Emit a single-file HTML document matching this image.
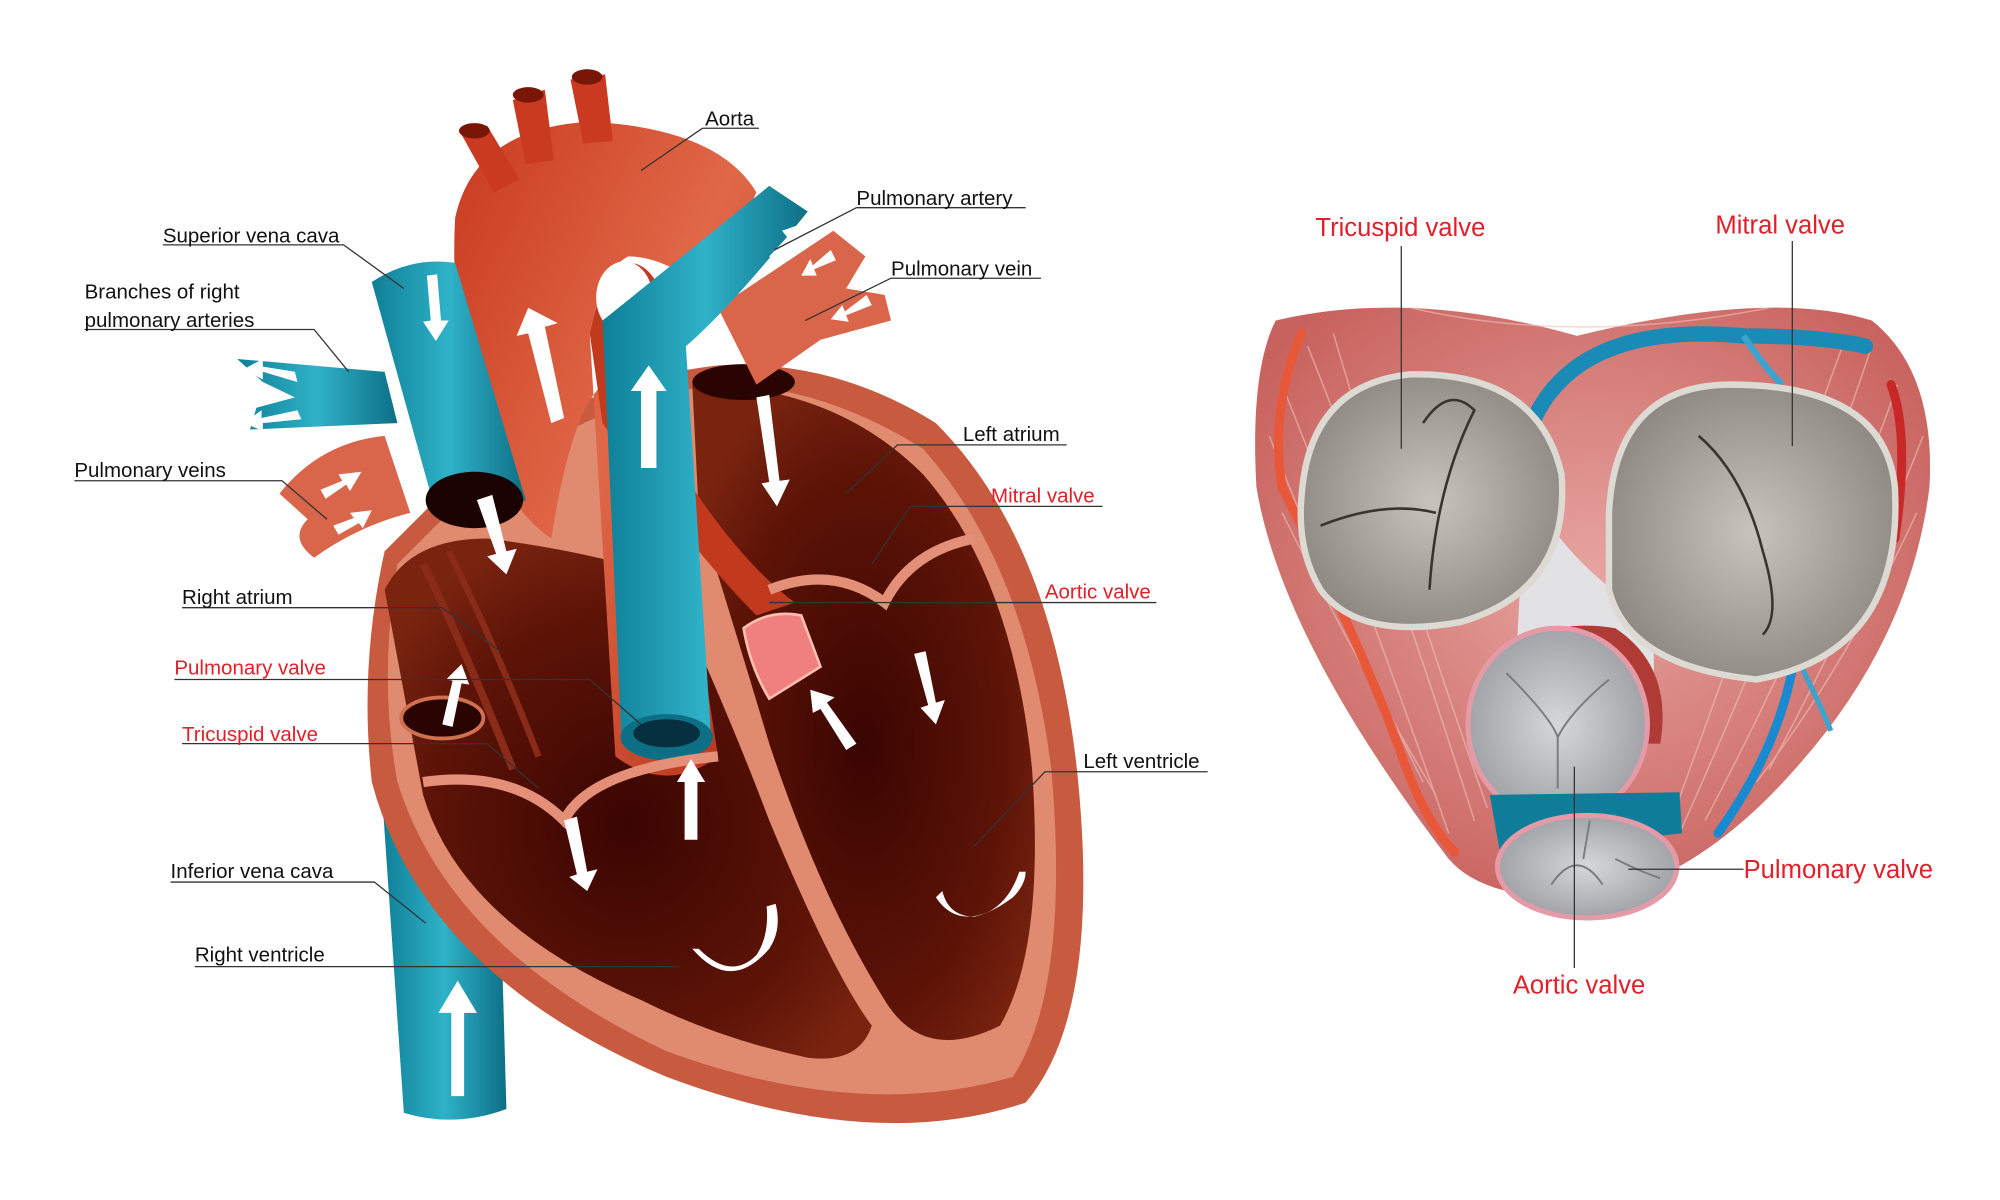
<!DOCTYPE html>
<html><head><meta charset="utf-8"><style>
html,body{margin:0;padding:0;background:#fff;width:2000px;height:1200px;overflow:hidden}
svg{display:block}
text{font-family:"Liberation Sans",sans-serif;font-size:16px}
.b{fill:#111}.r{fill:#e0202a}
.l{stroke:#333;stroke-width:1;fill:none}
.ar{fill:#fff}
</style></head><body>
<svg width="2000" height="1200" viewBox="0 0 1560 936" preserveAspectRatio="none">
<defs>
<radialGradient id="dk" cx="0.5" cy="0.55" r="0.6"><stop offset="0" stop-color="#3a0502"/><stop offset="0.7" stop-color="#5e1407"/><stop offset="1" stop-color="#7a2410"/></radialGradient>
<linearGradient id="ao" x1="0" y1="0" x2="1" y2="1"><stop offset="0" stop-color="#c93a20"/><stop offset="0.5" stop-color="#e06848"/><stop offset="1" stop-color="#b53018"/></linearGradient>
<linearGradient id="bl" x1="0" x2="1"><stop offset="0" stop-color="#0e7f97"/><stop offset="0.5" stop-color="#2fb2c8"/><stop offset="1" stop-color="#0d6f86"/></linearGradient>
<radialGradient id="gv" cx="0.5" cy="0.5" r="0.55"><stop offset="0" stop-color="#c8c3bc"/><stop offset="1" stop-color="#8e8882"/></radialGradient>
<radialGradient id="gv2" cx="0.5" cy="0.5" r="0.55"><stop offset="0" stop-color="#d6d7da"/><stop offset="1" stop-color="#9c9ea3"/></radialGradient>
<radialGradient id="mu" cx="0.5" cy="0.45" r="0.6"><stop offset="0" stop-color="#e7a4a0"/><stop offset="1" stop-color="#c8625e"/></radialGradient>
</defs>

<path d="M298,620 L388,620 L395,865 Q355,880 315,868 Z" fill="url(#bl)"/>
<path d="M300,430 Q280,520 290,610 Q330,760 520,840 Q680,900 800,860 Q860,790 840,600 Q820,420 730,330 Q650,280 560,285 Q430,300 330,400 Z" fill="#c85a40"/>
<path d="M310,440 Q295,530 310,610 Q350,740 520,820 Q670,875 790,840 Q835,770 820,600 Q800,440 720,350 Q640,300 560,300 Q440,315 340,410 Z" fill="#e08a70"/>
<path d="M540,300 Q650,300 720,370 Q790,450 805,600 Q815,740 780,800 Q720,830 690,780 Q640,700 600,580 Q570,480 545,400 Z" fill="url(#dk)"/>
<path d="M300,460 Q320,420 380,420 Q460,430 520,450 Q570,560 600,640 Q650,760 680,800 Q670,830 630,825 Q560,810 500,780 Q360,720 330,620 Z" fill="url(#dk)"/>
<path d="M330,440 Q360,500 400,600" stroke="#8a2a18" stroke-width="6" fill="none"/>
<path d="M350,430 Q385,500 420,590" stroke="#8a2a18" stroke-width="5" fill="none"/>
<ellipse cx="345" cy="560" rx="32" ry="16" fill="#2a0400" stroke="#d07050" stroke-width="3"/>
<ellipse cx="580" cy="298" rx="40" ry="14" fill="#2a0400"/>
<path d="M355,170 Q370,100 460,95 Q560,100 590,150 L555,230 Q520,200 490,200 Q470,210 460,260 L480,590 Q520,620 560,590 L520,330 Q460,230 430,420 Q400,400 380,350 Q350,260 355,170 Z" fill="url(#ao)"/>
<path d="M460,260 Q470,210 490,205 Q510,205 520,240 L540,380 Q580,440 620,470 L590,480 Q540,430 470,330 Z" fill="#c23a1e"/>
<ellipse cx="487" cy="232" rx="22" ry="28" fill="#fff"/>
<path d="M360,105 L380,98 L405,140 L385,150 Z" fill="#c93a20"/>
<path d="M400,78 L425,70 L432,125 L410,128 Z" fill="#c93a20"/>
<path d="M445,62 L472,58 L478,110 L455,112 Z" fill="#c93a20"/>
<ellipse cx="370" cy="102" rx="12" ry="6" fill="#7a1608"/>
<ellipse cx="412" cy="74" rx="12" ry="6" fill="#7a1608"/>
<ellipse cx="458" cy="60" rx="12" ry="6" fill="#7a1608"/>
<path d="M560,240 L650,180 L675,200 L660,225 L690,230 L695,250 L640,265 L590,300 Z" fill="#d9654a"/>
<path d="M218,385 Q250,345 300,340 L320,400 Q280,410 245,435 Q225,420 240,405 Z" fill="#d9654a"/>
<path d="M290,220 Q320,200 355,205 L410,390 Q380,410 340,400 Z" fill="url(#bl)"/>
<ellipse cx="370" cy="390" rx="38" ry="22" fill="#1a0200"/>
<path d="M185,280 L300,290 L310,330 L195,335 L200,318 L230,310 L205,298 Z" fill="url(#bl)"/>
<path d="M470,250 Q520,210 600,145 L630,165 Q570,240 535,270 L555,580 Q520,600 485,580 Z" fill="url(#bl)"/>
<ellipse cx="520" cy="575" rx="36" ry="18" fill="#0d6f86"/>
<ellipse cx="520" cy="572" rx="26" ry="11" fill="#063040"/>
<path d="M580,490 Q600,475 625,480 L640,520 L600,545 Q585,520 580,490 Z" fill="#f08080" stroke="#ffc0b0" stroke-width="2"/>
<path d="M600,460 Q650,440 690,470 Q710,430 760,420" stroke="#e49078" stroke-width="8" fill="none"/>
<path d="M330,610 Q400,600 440,640 Q460,600 560,590" stroke="#e49078" stroke-width="8" fill="none"/>
<g class="ar">
<path d="M430,330 L440,326 L425,255 L435,252 L412,240 L403,262 L412,260 Z"/>
<path d="M500,365 L512,365 L512,305 L520,305 L506,285 L492,305 L500,305 Z"/>
<path d="M352,855 L362,855 L362,790 L372,790 L357,765 L342,790 L352,790 Z"/>
<path d="M333,215 L341,214 L344,250 L350,250 L340,266 L330,251 L336,250 Z"/>
<path d="M372,390 L384,386 L395,430 L403,428 L395,448 L380,434 L387,432 Z"/>
<path d="M590,310 L600,308 L608,375 L616,374 L606,395 L594,377 L600,376 Z"/>
<path d="M440,640 L450,637 L458,680 L466,678 L458,695 L444,684 L450,682 Z"/>
<path d="M534,655 L544,655 L544,610 L550,610 L539,592 L528,610 L534,610 Z"/>
<path d="M345,565 L353,567 L360,533 L366,534 L360,518 L348,530 L353,531 Z"/>
<path d="M660,585 L668,580 L645,548 L651,544 L632,538 L634,556 L640,553 Z"/>
<path d="M713,510 L722,508 L730,548 L737,546 L730,565 L718,552 L724,550 Z"/>
<path d="M600,200 L608,208 L620,190 L625,195 L630,173 L610,180 L614,185 Z"/>
<path d="M230,290 L232,298 L205,290 L205,296 L190,288 L205,280 L205,286 Z"/>
<path d="M232,320 L235,327 L205,330 L205,336 L190,330 L204,320 L204,326 Z"/>
<path d="M250,382 L254,389 L270,378 L273,383 L282,368 L264,370 L267,375 Z"/>
<path d="M260,410 L264,417 L280,408 L283,412 L290,398 L273,400 L276,404 Z"/>
<path d="M648,195 L652,203 L635,210 L637,215 L625,215 L632,202 L634,207 Z"/>
<path d="M676,230 L680,238 L660,246 L662,251 L648,249 L657,238 L659,243 Z"/>
<path d="M540,740 Q570,775 600,740 Q610,725 605,705 L598,707 Q600,730 590,745 Q570,765 545,740 Z"/>
<path d="M730,700 Q750,730 790,700 Q800,690 800,680 L795,680 Q785,710 760,715 Q740,715 735,695 Z"/>
</g>

<!-- RIGHT VALVE VIEW -->
<path d="M995,250 Q1100,225 1230,262 Q1380,225 1460,250 Q1510,290 1505,380 Q1490,500 1400,600 Q1330,680 1250,700 Q1160,705 1130,670 Q1000,500 980,380 Q975,290 995,250 Z" fill="url(#mu)"/>
<g stroke="#f2c0bc" stroke-width="1.2" opacity="0.6" fill="none">
<path d="M1000,300 Q1060,450 1130,650"/><path d="M1020,270 Q1080,420 1150,640"/><path d="M1480,300 Q1420,470 1330,640"/><path d="M1460,270 Q1400,450 1310,650"/><path d="M1100,240 Q1230,270 1380,240"/><path d="M1000,400 Q1060,520 1120,620"/><path d="M1495,400 Q1440,520 1370,610"/>
<path d="M1040,260 Q1090,430 1160,630"/><path d="M1440,262 Q1380,430 1300,650"/><path d="M990,340 Q1040,470 1110,610"/><path d="M1500,340 Q1450,470 1380,600"/>
</g>
<path d="M1190,380 Q1230,450 1290,480 L1290,560 L1180,560 Z" fill="#e2e2e4"/>
<path d="M1195,330 Q1230,250 1360,262 Q1420,262 1455,270" stroke="#1a8ab6" stroke-width="12" fill="none" stroke-linecap="round"/>
<path d="M1360,262 Q1375,285 1390,300" stroke="#3aa3d0" stroke-width="5" fill="none"/>
<path d="M1015,260 Q990,320 1000,380 Q1060,500 1090,580 Q1110,640 1135,665" stroke="#e85838" stroke-width="7" fill="none" stroke-linecap="round"/>
<path d="M1475,300 Q1490,340 1478,420" stroke="#c82828" stroke-width="7" fill="none" stroke-linecap="round"/>
<path d="M1400,510 Q1390,580 1340,650" stroke="#1a8ad0" stroke-width="7" fill="none" stroke-linecap="round"/>
<path d="M1405,520 Q1420,550 1428,570" stroke="#3aa3d0" stroke-width="4" fill="none"/>
<path d="M1015,390 Q1020,300 1100,292 Q1200,290 1218,370 Q1225,460 1140,485 Q1060,500 1030,460 Q1012,430 1015,390 Z" fill="url(#gv)" stroke="#dcdad2" stroke-width="5"/>
<path d="M1255,400 Q1260,300 1350,300 Q1470,300 1478,380 Q1485,510 1370,530 Q1270,520 1255,460 Z" fill="url(#gv)" stroke="#dcdad2" stroke-width="5"/>
<path d="M1030,410 Q1080,390 1120,400 M1110,330 Q1130,300 1150,320 Q1120,380 1115,460" stroke="#3a3430" stroke-width="2" fill="none"/>
<path d="M1325,340 Q1360,370 1375,430 Q1390,480 1375,495" stroke="#3a3430" stroke-width="2" fill="none"/>
<path d="M1160,520 Q1200,480 1260,490 Q1305,520 1295,580 L1250,580 Z" fill="#b03a36"/>
<ellipse cx="1215" cy="565" rx="70" ry="75" fill="url(#gv2)" stroke="#e59aa8" stroke-width="4"/>
<path d="M1175,525 Q1210,560 1215,575 Q1225,555 1255,530 M1215,575 L1215,615" stroke="#7a7b80" stroke-width="1.5" fill="none"/>
<path d="M1162,620 L1310,618 L1312,650 L1170,665 Z" fill="#0f7d9a"/>
<ellipse cx="1238" cy="676" rx="70" ry="40" fill="url(#gv2)" stroke="#e59aa8" stroke-width="4"/>
<path d="M1210,690 Q1230,660 1250,690 M1240,640 L1235,670 M1260,670 Q1280,680 1295,685" stroke="#7a7b80" stroke-width="1.5" fill="none"/>

<g class="l">
<path d="M548,100 L592,100 M548,100 L500,133"/>
<path d="M668,162 L800,162 M668,162 L604,195"/>
<path d="M695,217 L812,217 M695,217 L628,250"/>
<path d="M127,191 L268,191 L315,225"/>
<path d="M66,257 L245,257 L272,290"/>
<path d="M58,375 L220,375 L255,405"/>
<path d="M751,347 L832,347 M751,347 L700,347 L660,385"/>
<path d="M773,395 L860,395 M773,395 L710,395 L680,440"/>
<path d="M815,470 L902,470 L600,470"/>
<path d="M142,474 L345,474 L390,508"/>
<path d="M136,530 L460,530 L500,565"/>
<path d="M142,580 L380,580 L420,615"/>
<path d="M845,602 L942,602 M845,602 L815,602 L760,660"/>
<path d="M133,688 L292,688 L332,720"/>
<path d="M152,754 L530,754"/>
<path d="M1093,192 L1093,350"/>
<path d="M1398,188 L1398,348"/>
<path d="M1270,678 L1360,678"/>
<path d="M1228,598 L1228,755"/>
</g>

<text class="b" x="550" y="98">Aorta</text>
<text class="b" x="668" y="160">Pulmonary artery</text>
<text class="b" x="695" y="215">Pulmonary vein</text>
<text class="b" x="127" y="189">Superior vena cava</text>
<text class="b" x="66" y="233">Branches of right</text>
<text class="b" x="66" y="255">pulmonary arteries</text>
<text class="b" x="58" y="372">Pulmonary veins</text>
<text class="b" x="751" y="344">Left atrium</text>
<text class="r" x="773" y="392">Mitral valve</text>
<text class="r" x="815" y="467">Aortic valve</text>
<text class="b" x="142" y="471">Right atrium</text>
<text class="r" x="136" y="526">Pulmonary valve</text>
<text class="r" x="142" y="578">Tricuspid valve</text>
<text class="b" x="845" y="599">Left ventricle</text>
<text class="b" x="133" y="685">Inferior vena cava</text>
<text class="b" x="152" y="750">Right ventricle</text>
<text class="r" x="1026" y="184" style="font-size:20px">Tricuspid valve</text>
<text class="r" x="1338" y="182" style="font-size:20px">Mitral valve</text>
<text class="r" x="1360" y="685" style="font-size:20px">Pulmonary valve</text>
<text class="r" x="1180" y="775" style="font-size:20px">Aortic valve</text>
</svg>
</body></html>
